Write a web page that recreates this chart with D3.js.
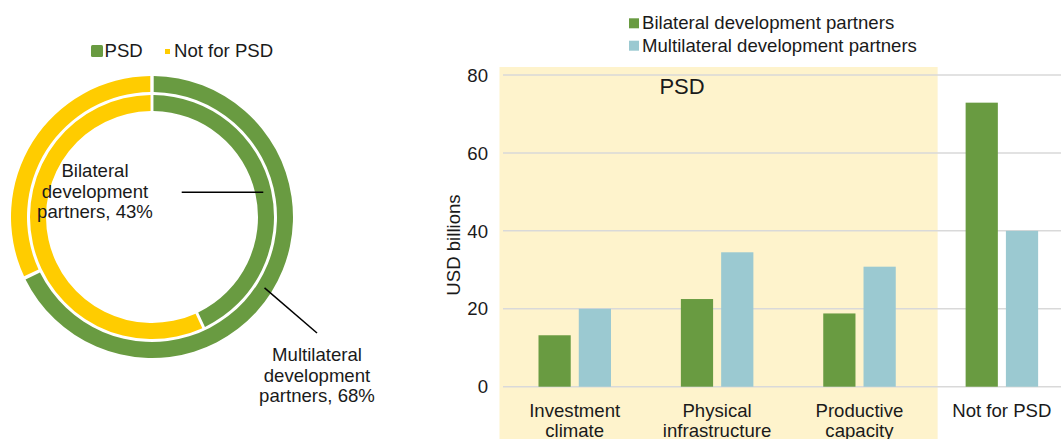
<!DOCTYPE html>
<html>
<head>
<meta charset="utf-8">
<script src="https://cdn.jsdelivr.net/npm/d3@7"></script>
<style>
  body { margin: 0; background: #fff; }
  svg { display: block; font-family: "Liberation Sans", Arial, sans-serif; }
</style>
</head>
<body>
<svg id="chart" width="1061" height="439"></svg>
<script>
// donut data (share of each partner type going to PSD)
const ringNames = ["Bilateral development partners", "Multilateral development partners"];
const ringPsd = [43, 68];
const ringKeys = ["PSD", "Not for PSD"];

// bar data, USD billions
const categories = ["Investment climate", "Physical infrastructure", "Productive capacity", "Not for PSD"];
const categoryLines = [["Investment", "climate"], ["Physical", "infrastructure"], ["Productive", "capacity"], ["Not for PSD"]];
const seriesNames = ["Bilateral development partners", "Multilateral development partners"];
const bilateral = [13.2, 22.5, 18.8, 72.9];
const multilateral = [20.0, 34.5, 30.8, 40.0];
const yTicks = [0, 20, 40, 60, 80];
const psdCategories = ["Investment climate", "Physical infrastructure", "Productive capacity"];

const green = "#699b41";
const blue = "#9bc9d1";
const yellow = "#ffcc00";
const band = "#fef3cc";
const fs = 18.6;

const svg = d3.select("#chart");

// ---------- donut ----------
const cx = 152, cy = 217;
const donut = svg.append("g").attr("transform", `translate(${cx}, ${cy})`);

const pie = d3.pie().sort(null).value((d) => d.value).padAngle(0.018);
const radii = [[106, 122], [125, 141]]; // inner ring = bilateral, outer = multilateral

ringPsd.forEach((psd, i) => {
  const slices = pie([
    { key: ringKeys[0], value: psd },
    { key: ringKeys[1], value: 100 - psd },
  ]);
  const arc = d3.arc().innerRadius(radii[i][0]).outerRadius(radii[i][1]);
  donut
    .selectAll(`path.ring${i}`)
    .data(slices)
    .enter()
    .append("path")
    .attr("class", `ring${i}`)
    .attr("d", arc)
    .attr("fill", (d) => (d.data.key === "PSD" ? green : yellow));

  // leader line from centroid of the PSD slice
  const c = arc.centroid(slices[0]);
  const end = i === 0 ? [181.7 - cx, c[1]] : [317 - cx, 333 - cy];
  donut
    .append("line")
    .attr("x1", c[0])
    .attr("y1", c[1])
    .attr("x2", end[0])
    .attr("y2", end[1])
    .attr("stroke", "#000")
    .attr("stroke-width", 1.5);
});

// donut labels
const donutLabels = [
  { x: 95, y: 177, lines: ["Bilateral", "development", `partners, ${ringPsd[0]}%`] },
  { x: 317, y: 361, lines: ["Multilateral", "development", `partners, ${ringPsd[1]}%`] },
];
donutLabels.forEach((l) => {
  const t = svg
    .append("text")
    .attr("text-anchor", "middle")
    .attr("font-size", fs)
    .attr("fill", "#1a1a1a");
  l.lines.forEach((s, j) => {
    t.append("tspan").attr("x", l.x).attr("y", l.y + j * 20.5).text(s);
  });
});

// donut legend
svg.append("rect").attr("x", 91).attr("y", 45).attr("width", 12).attr("height", 12).attr("rx", 1.5).attr("fill", green);
svg.append("text").attr("x", 104.5).attr("y", 57.3).attr("font-size", fs).attr("fill", "#1a1a1a").text(ringKeys[0]);
svg.append("rect").attr("x", 165).attr("y", 49).attr("width", 5).attr("height", 5).attr("fill", yellow);
svg.append("text").attr("x", 174).attr("y", 57.3).attr("font-size", fs).attr("fill", "#1a1a1a").text(ringKeys[1]);

// ---------- bar chart ----------
const xScale = d3.scaleBand().domain(categories).range([503.5, 1073]);
const xSub = d3.scaleBand().domain(seriesNames).range([35, 107.5]).paddingInner(0.2);
const yScale = d3.scaleLinear().domain([0, 80]).range([386.7, 75]);

// PSD shaded area
const bandX0 = xScale(psdCategories[0]) - 4;
const bandX1 = xScale(psdCategories[psdCategories.length - 1]) + xScale.bandwidth() + 7;
svg
  .append("rect")
  .attr("x", bandX0)
  .attr("y", 67)
  .attr("width", bandX1 - bandX0)
  .attr("height", 439 - 67)
  .attr("fill", band);

svg
  .append("text")
  .attr("x", xScale(psdCategories[1]) + xScale.bandwidth() / 2 - 35)
  .attr("y", 94)
  .attr("text-anchor", "middle")
  .attr("font-size", 22)
  .attr("fill", "#1a1a1a")
  .text("PSD");

// gridlines
svg
  .append("g")
  .selectAll("line")
  .data(yTicks)
  .enter()
  .append("line")
  .attr("x1", 503)
  .attr("x2", 1061)
  .attr("y1", (d) => yScale(d))
  .attr("y2", (d) => yScale(d))
  .attr("stroke", "#d9d9d9")
  .attr("stroke-width", 1.5);

// y tick labels
svg
  .append("g")
  .selectAll("text")
  .data(yTicks)
  .enter()
  .append("text")
  .attr("x", 488)
  .attr("y", (d) => yScale(d))
  .attr("dy", "0.36em")
  .attr("text-anchor", "end")
  .attr("font-size", fs)
  .attr("fill", "#1a1a1a")
  .text((d) => d);

// y axis title
svg
  .append("text")
  .attr("transform", `translate(460, 245) rotate(-90)`)
  .attr("text-anchor", "middle")
  .attr("font-size", fs)
  .attr("fill", "#1a1a1a")
  .text("USD billions");

// bars
const rows = categories.map((c, i) => ({
  category: c,
  values: [
    { series: seriesNames[0], value: bilateral[i], color: green },
    { series: seriesNames[1], value: multilateral[i], color: blue },
  ],
}));

svg
  .append("g")
  .selectAll("g")
  .data(rows)
  .enter()
  .append("g")
  .attr("transform", (d) => `translate(${xScale(d.category)}, 0)`)
  .selectAll("rect")
  .data((d) => d.values)
  .enter()
  .append("rect")
  .attr("x", (d) => xSub(d.series))
  .attr("y", (d) => yScale(d.value))
  .attr("width", xSub.bandwidth())
  .attr("height", (d) => yScale(0) - yScale(d.value))
  .attr("fill", (d) => d.color);

// x labels
const xLabels = svg
  .append("g")
  .selectAll("text")
  .data(categories)
  .enter()
  .append("text")
  .attr("text-anchor", "middle")
  .attr("font-size", fs)
  .attr("fill", "#1a1a1a");
xLabels
  .selectAll("tspan")
  .data((d, i) => categoryLines[i].map((s) => ({ s, c: d })))
  .enter()
  .append("tspan")
  .attr("x", (d) => xScale(d.c) + xScale.bandwidth() / 2)
  .attr("y", (d, j) => 416.7 + j * 20)
  .text((d) => d.s);

// bar legend
const legend = svg
  .append("g")
  .selectAll("g")
  .data(seriesNames)
  .enter()
  .append("g")
  .attr("transform", (d, i) => `translate(629, ${18.3 + i * 22.4})`);
legend
  .append("rect")
  .attr("width", 10)
  .attr("height", 10)
  .attr("fill", (d, i) => (i === 0 ? green : blue));
legend
  .append("text")
  .attr("x", 13)
  .attr("y", 11)
  .attr("font-size", fs)
  .attr("fill", "#1a1a1a")
  .text((d) => d);
</script>
</body>
</html>
